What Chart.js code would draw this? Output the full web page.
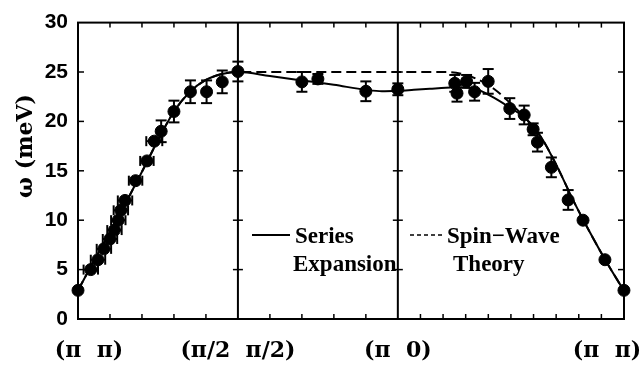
<!DOCTYPE html>
<html>
<head>
<meta charset="utf-8">
<script src="https://cdn.jsdelivr.net/npm/chart.js@4.4.1/dist/chart.umd.min.js"></script>
<style>
  html, body { margin: 0; padding: 0; background: #fff; }
</style>
</head>
<body>
<canvas id="chart" width="642" height="373"></canvas>
<script>
// path coordinate: (π π) -> (π/2 π/2) -> (π 0) -> (π π), lengths 1 : 1 : √2
const pathStops = [0, 1, 2, 2 + Math.SQRT2];
const pathLabels = ['(π  π)', '(π/2  π/2)', '(π  0)', '(π  π)'];
const minorDivisions = [5, 5, 10];
const yTicks = [0, 5, 10, 15, 20, 25, 30];

// measured points (omega in meV) with error bars
const obsX    = [0, 0.08, 0.125, 0.162, 0.2, 0.228, 0.252, 0.268, 0.294, 0.36, 0.431, 0.477, 0.52, 0.6, 0.703, 0.804, 0.902, 1.0,
                 1.4, 1.5, 1.8, 2.0,
                 2.356, 2.37, 2.43, 2.48, 2.565, 2.7, 2.79, 2.846, 2.873, 2.96, 3.065, 3.158, 3.295, 3.414];
const obsY    = [2.9, 5.0, 6.0, 7.1, 8.1, 9.0, 10.0, 11.0, 12.0, 14.0, 16.0, 18.0, 19.0, 21.0, 23.0, 23.0, 24.0, 25.05,
                 24.0, 24.3, 23.05, 23.25,
                 23.85, 22.85, 24.05, 23.0, 24.05, 21.3, 20.65, 19.2, 17.9, 15.35, 12.05, 10.0, 6.0, 2.9];
const obsYErr = [0, 0, 0, 0, 0, 0, 0, 0, 0, 0, 0, 0, 1.1, 1.1, 1.15, 1.15, 1.15, 1.0,
                 1.0, 0.5, 1.0, 0.6,
                 0.85, 0.85, 0.65, 0.9, 1.25, 1.05, 0.95, 0.6, 0.95, 1.0, 1.0, 0, 0, 0];
const obsXErr = [0, 0.045, 0.045, 0.045, 0.045, 0.045, 0.045, 0.045, 0.045, 0.042, 0.042, 0.05, 0, 0, 0, 0, 0, 0,
                 0, 0, 0, 0,
                 0, 0, 0, 0, 0, 0, 0, 0, 0, 0, 0, 0, 0, 0];

// series expansion curve (solid)
const seX = [0, 0.1, 0.2, 0.3, 0.4, 0.5, 0.6, 0.7, 0.8, 0.9, 1.0, 1.2, 1.4, 1.6, 1.8, 1.9, 2.0,
             2.1, 2.2, 2.3, 2.4, 2.5, 2.6, 2.7, 2.8, 2.9, 3.0, 3.1, 3.2, 3.3, 3.414];
const seY = [2.9, 5.9, 8.8, 11.8, 14.9, 18.1, 21.0, 23.0, 24.2, 24.8, 25.0, 24.6, 24.15, 23.7, 23.2, 23.05, 23.1,
             23.2, 23.3, 23.4, 23.45, 23.2, 22.4, 21.4, 20.3, 18.3, 15.3, 11.9, 8.8, 5.9, 2.85];

// spin-wave theory curve (dashed)
const swX = [0, 0.1, 0.2, 0.3, 0.4, 0.5, 0.6, 0.7, 0.8, 0.9, 1.0, 1.5, 2.0, 2.3, 2.4, 2.5, 2.6, 2.7, 2.8, 2.9, 3.0, 3.1, 3.2, 3.3, 3.414];
const swY = [2.9, 5.9, 8.8, 11.8, 14.9, 18.1, 21.0, 23.0, 24.2, 24.8, 25.0, 25.0, 25.0, 25.0, 24.8, 24.25, 23.3, 21.9, 20.3, 18.3, 15.3, 11.9, 8.8, 5.9, 2.85];

const toXY = (xs, ys) => xs.map((v, i) => ({ x: v, y: ys[i] }));

const serif = '"DejaVu Serif", serif';

function seg(ctx, x1, y1, x2, y2) {
  ctx.beginPath();
  ctx.moveTo(x1, y1);
  ctx.lineTo(x2, y2);
  ctx.stroke();
}

// box, dividers and inward tick marks
const frame = {
  id: 'frame',
  beforeDatasetsDraw(chart) {
    const { ctx, chartArea: a, scales: { x, y } } = chart;
    ctx.save();
    ctx.strokeStyle = '#000';
    ctx.lineWidth = 2;
    ctx.strokeRect(a.left, a.top, a.right - a.left, a.bottom - a.top);
    const dividers = [pathStops[1], pathStops[2]].map(v => x.getPixelForValue(v));
    dividers.forEach(px => seg(ctx, px, a.top, px, a.bottom));
    ctx.lineWidth = 1.5;
    yTicks.slice(1, -1).forEach(v => {
      const py = y.getPixelForValue(v);
      seg(ctx, a.left, py, a.left + 6, py);
      seg(ctx, a.right - 6, py, a.right, py);
      dividers.forEach(px => seg(ctx, px - 5, py, px + 5, py));
    });
    for (let s = 0; s < 3; s++) {
      const n = minorDivisions[s];
      for (let k = 1; k < n; k++) {
        const v = pathStops[s] + (pathStops[s + 1] - pathStops[s]) * k / n;
        const px = x.getPixelForValue(v);
        seg(ctx, px, a.bottom, px, a.bottom - 5);
        seg(ctx, px, a.top, px, a.top + 5);
      }
    }
    ctx.restore();
  }
};

const errorBars = {
  id: 'errorBars',
  afterDatasetsDraw(chart) {
    const { ctx, scales: { x, y } } = chart;
    ctx.save();
    ctx.strokeStyle = '#000';
    ctx.lineWidth = 2;
    obsX.forEach((v, i) => {
      const px = x.getPixelForValue(v);
      const py = y.getPixelForValue(obsY[i]);
      if (obsYErr[i] > 0) {
        const t = y.getPixelForValue(obsY[i] + obsYErr[i]);
        const b = y.getPixelForValue(obsY[i] - obsYErr[i]);
        seg(ctx, px, t, px, b);
        seg(ctx, px - 5.5, t, px + 5.5, t);
        seg(ctx, px - 5.5, b, px + 5.5, b);
      }
      if (obsXErr[i] > 0) {
        const l = x.getPixelForValue(v - obsXErr[i]);
        const r = x.getPixelForValue(v + obsXErr[i]);
        seg(ctx, l, py, r, py);
        seg(ctx, l, py - 5, l, py + 5);
        seg(ctx, r, py - 5, r, py + 5);
      }
    });
    ctx.restore();
  }
};

// axis labels and in-plot legend
const texts = {
  id: 'texts',
  afterDraw(chart) {
    const { ctx, scales: { x } } = chart;
    ctx.save();
    ctx.fillStyle = '#000';
    ctx.font = 'bold 22px ' + serif;
    ctx.textAlign = 'center';
    ctx.textBaseline = 'middle';
    const shift = [11, 0, 0, -17];
    pathStops.forEach((v, i) => {
      ctx.fillText(pathLabels[i], x.getPixelForValue(v) + shift[i], 351);
    });

    ctx.save();
    ctx.translate(26, 146);
    ctx.rotate(-Math.PI / 2);
    ctx.font = 'bold 22px ' + serif;
    ctx.fillText('ω (meV)', 0, 0);
    ctx.restore();

    ctx.strokeStyle = '#000';
    ctx.lineWidth = 2;
    seg(ctx, 252, 235, 290, 235);
    ctx.lineWidth = 1.5;
    ctx.setLineDash([4, 3]);
    seg(ctx, 410, 235, 443, 235);
    ctx.setLineDash([]);

    ctx.font = 'bold 23px "Liberation Serif", serif';
    ctx.textAlign = 'left';
    ctx.textBaseline = 'alphabetic';
    ctx.fillText('Series', 295, 243);
    ctx.fillText('Expansion', 293, 271);
    ctx.fillText('Spin−Wave', 447, 243);
    ctx.fillText('Theory', 453, 271);
    ctx.restore();
  }
};

new Chart(document.getElementById('chart'), {
  type: 'scatter',
  data: {
    datasets: [
      {
        type: 'line',
        label: 'Series Expansion',
        data: toXY(seX, seY),
        borderColor: '#000',
        borderWidth: 2,
        pointRadius: 0,
        cubicInterpolationMode: 'monotone',
        fill: false,
        clip: false,
        order: 3
      },
      {
        type: 'line',
        label: 'Spin-Wave Theory',
        data: toXY(swX, swY),
        borderColor: '#000',
        borderWidth: 2,
        borderDash: [10, 5],
        pointRadius: 0,
        cubicInterpolationMode: 'monotone',
        fill: false,
        clip: false,
        order: 2
      },
      {
        label: 'data',
        data: toXY(obsX, obsY),
        backgroundColor: '#000',
        borderColor: '#000',
        pointRadius: 6,
        pointHoverRadius: 6,
        clip: false,
        order: 1
      }
    ]
  },
  options: {
    responsive: false,
    animation: false,
    devicePixelRatio: 1,
    layout: { padding: { left: 0, top: 13, right: 18, bottom: 0 } },
    plugins: {
      legend: { display: false },
      tooltip: { enabled: false }
    },
    scales: {
      x: {
        type: 'linear',
        min: pathStops[0],
        max: pathStops[3],
        ticks: { display: false },
        grid: { display: false, drawTicks: false },
        border: { display: false },
        afterFit: s => { s.height = 54; }
      },
      y: {
        min: 0,
        max: 30,
        afterBuildTicks: s => { s.ticks = yTicks.map(v => ({ value: v })); },
        ticks: {
          color: '#000',
          padding: 10,
          font: { family: '"Liberation Sans", sans-serif', size: 21, weight: 'bold' }
        },
        grid: { display: false, drawTicks: false },
        border: { display: false },
        afterFit: s => { s.width = 78; }
      }
    }
  },
  plugins: [frame, errorBars, texts]
});
</script>
</body>
</html>
